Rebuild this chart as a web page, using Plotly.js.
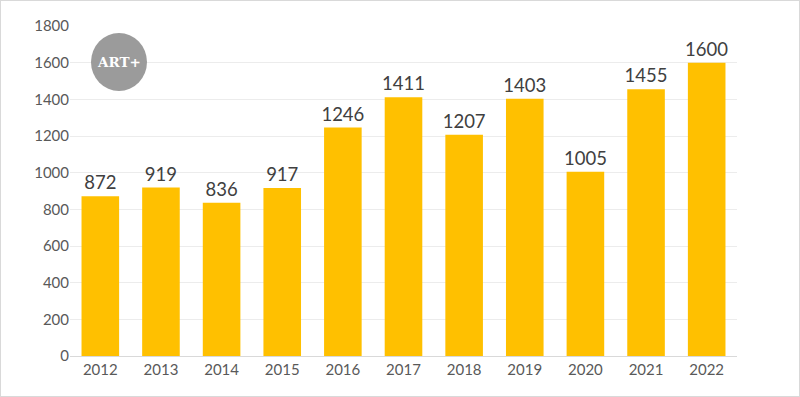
<!DOCTYPE html>
<html><head><meta charset="utf-8">
<script src="https://cdn.plot.ly/plotly-3.0.1.min.js"></script>
<style>
html,body{margin:0;padding:0;background:#fff;}
#wrap{position:relative;width:800px;height:397px;}
#chart{width:800px;height:397px;}
#border{position:absolute;left:0;top:0;width:798px;height:395px;border:1px solid #d9d9d9;pointer-events:none;}
</style></head>
<body>
<div id="wrap"><div id="chart"></div><div id="border"></div></div>
<script>
const years = ['2012','2013','2014','2015','2016','2017','2018','2019','2020','2021','2022'];
const values = [872, 919, 836, 917, 1246, 1411, 1207, 1403, 1005, 1455, 1600];
const yTicks = [0,200,400,600,800,1000,1200,1400,1600,1800];

const trace = {
  type:'bar', x: years, y: values,
  text: values.map(String), textposition:'outside', cliponaxis:false, constraintext:'none',
  textfont:{family:'Lato, "Noto Sans", sans-serif', size:18.5, color:'#404040'},
  marker:{color:'#ffc000'}, width:0.62, hoverinfo:'none'
};
const layout = {
  width:800, height:397,
  margin:{l:70, r:63, t:26, b:41},
  paper_bgcolor:'#ffffff', plot_bgcolor:'#ffffff',
  showlegend:false,
  font:{family:'Lato, "Noto Sans", sans-serif', color:'#595959', size:15},
  xaxis:{type:'category', showgrid:false, showline:true, linecolor:'#d9d9d9', linewidth:1,
         ticks:'', tickfont:{size:15, color:'#595959'}, fixedrange:true},
  yaxis:{range:[0,1800], tickvals:yTicks, showgrid:true, gridcolor:'#ececec', gridwidth:1,
         zeroline:false, showline:false, ticks:'', tickfont:{size:15, color:'#595959'}, fixedrange:true},
  shapes:[{type:'circle', xref:'paper', yref:'paper', x0:(91-70)/667, x1:(147-70)/667,
           y0:(356-91)/330, y1:(356-33)/330, fillcolor:'#9b9b9b', line:{width:0}, layer:'above'}],
  annotations:[{xref:'paper', yref:'paper', x:(119-70)/667, y:(356-62)/330, showarrow:false,
    xanchor:'center', yanchor:'middle',
    text:'<b>ART+</b>', font:{family:'"DejaVu Serif", "Liberation Serif", serif', size:13.5, color:'#ffffff'}}]
};
Plotly.newPlot('chart',[trace],layout,{displayModeBar:false, staticPlot:true});
</script>
</body></html>
